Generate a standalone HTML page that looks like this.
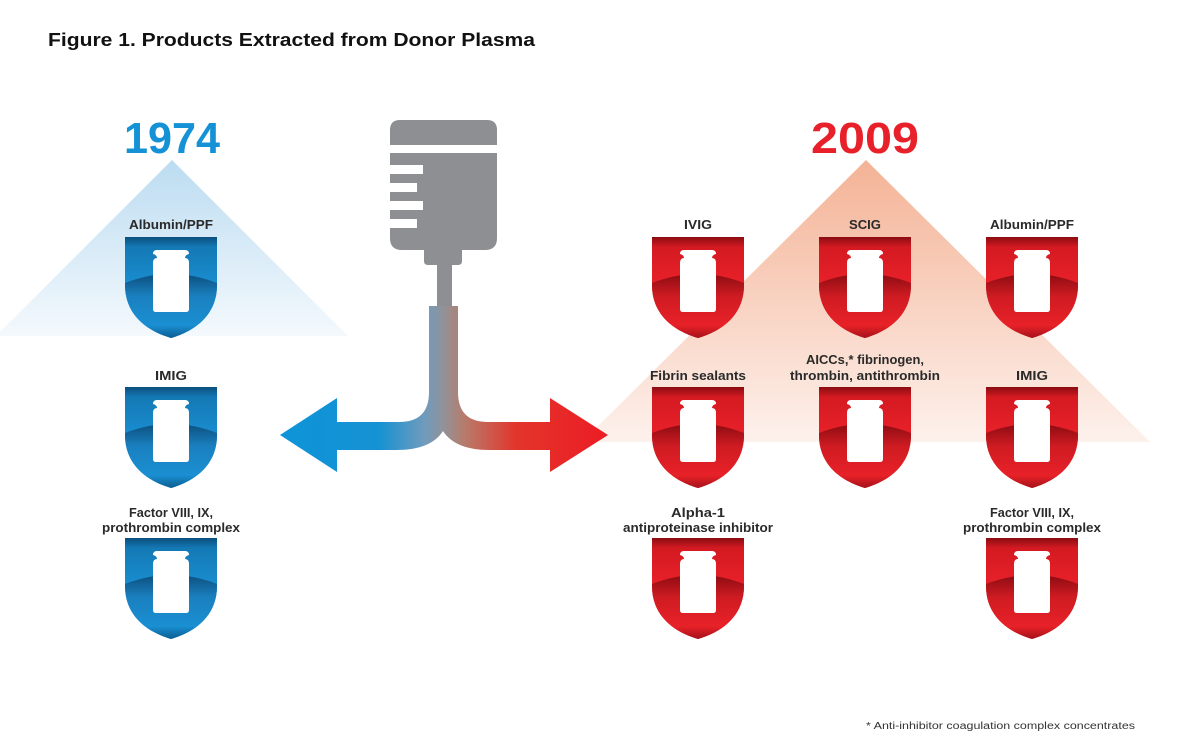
<!DOCTYPE html>
<html><head><meta charset="utf-8"><style>
html,body{margin:0;padding:0;background:#fff;}
svg{display:block;}
text{font-family:"Liberation Sans",sans-serif;}
.lb{font-size:13px;fill:#2a2a2a;text-anchor:middle;font-weight:bold;}
</style></head><body>
<svg width="1200" height="756" viewBox="0 0 1200 756" xmlns="http://www.w3.org/2000/svg">
<defs>
<linearGradient id="triB" x1="0" y1="0" x2="0" y2="1"><stop offset="0" stop-color="#bcdcf1"/><stop offset="1" stop-color="#f4f9fd"/></linearGradient>
<linearGradient id="triR" x1="0" y1="0" x2="0" y2="1"><stop offset="0" stop-color="#f4b396"/><stop offset="1" stop-color="#fdf1ec"/></linearGradient>
<linearGradient id="bTop" x1="0" y1="0" x2="0" y2="1"><stop offset="0" stop-color="#0b4f7c"/><stop offset="0.1" stop-color="#1479b5"/><stop offset="0.5" stop-color="#1a8fd2"/><stop offset="1" stop-color="#1a8fd2"/></linearGradient>
<linearGradient id="bLow" x1="0" y1="0" x2="0" y2="1"><stop offset="0" stop-color="#0c507f"/><stop offset="0.35" stop-color="#1a80bf"/><stop offset="0.8" stop-color="#1a8fd2"/><stop offset="1" stop-color="#0c5d92"/></linearGradient>
<linearGradient id="rTop" x1="0" y1="0" x2="0" y2="1"><stop offset="0" stop-color="#8a0c12"/><stop offset="0.1" stop-color="#d41a22"/><stop offset="0.5" stop-color="#ea2129"/><stop offset="1" stop-color="#ea2129"/></linearGradient>
<linearGradient id="rLow" x1="0" y1="0" x2="0" y2="1"><stop offset="0" stop-color="#8d0c12"/><stop offset="0.35" stop-color="#cf1b22"/><stop offset="0.8" stop-color="#e82128"/><stop offset="1" stop-color="#a5121a"/></linearGradient>
<linearGradient id="arr" gradientUnits="userSpaceOnUse" x1="280" y1="0" x2="608" y2="0">
<stop offset="0" stop-color="#0d94d8"/><stop offset="0.3" stop-color="#1592d3"/><stop offset="0.44" stop-color="#6f9bbd"/><stop offset="0.5" stop-color="#929298"/><stop offset="0.56" stop-color="#b67c6c"/><stop offset="0.72" stop-color="#e3352c"/><stop offset="1" stop-color="#ec1c24"/></linearGradient>
<g id="shB">
<path d="M0,0 H92 V48 C92,78 70,94 46,101 C22,94 0,78 0,48 Z" fill="url(#bTop)"/>
<path d="M0,46 Q46,28 92,46 V48 C92,78 70,94 46,101 C22,94 0,78 0,48 Z" fill="url(#bLow)"/>
<path d="M28,17 Q28,13 32,13 H60 Q64,13 64,17 Q60,18 60,21 Q64,21 64,26 V72 Q64,75 61,75 H31 Q28,75 28,72 V26 Q28,21 32,21 Q32,18 28,17 Z" fill="#fff"/>
</g>
<g id="shR">
<path d="M0,0 H92 V48 C92,78 70,94 46,101 C22,94 0,78 0,48 Z" fill="url(#rTop)"/>
<path d="M0,46 Q46,28 92,46 V48 C92,78 70,94 46,101 C22,94 0,78 0,48 Z" fill="url(#rLow)"/>
<path d="M28,17 Q28,13 32,13 H60 Q64,13 64,17 Q60,18 60,21 Q64,21 64,26 V72 Q64,75 61,75 H31 Q28,75 28,72 V26 Q28,21 32,21 Q32,18 28,17 Z" fill="#fff"/>
</g>
</defs>

<text x="48" y="46" font-size="18" font-weight="bold" fill="#111" textLength="487" lengthAdjust="spacingAndGlyphs">Figure 1. Products Extracted from Donor Plasma</text>

<!-- triangles -->
<polygon points="172,160 348,336 -4,336" fill="url(#triB)"/>
<polygon points="866,160 1150,442 582,442" fill="url(#triR)"/>

<text x="172" y="153" font-size="44" font-weight="bold" fill="#1592d6" text-anchor="middle" textLength="96" lengthAdjust="spacingAndGlyphs">1974</text>
<text x="865" y="153" font-size="44" font-weight="bold" fill="#e8202a" text-anchor="middle" textLength="108" lengthAdjust="spacingAndGlyphs">2009</text>

<!-- bag -->
<g fill="#8d8f92">
<path d="M390,145 V130 Q390,120 400,120 H487 Q497,120 497,130 V145 Z"/>
<path d="M390,153 H497 V238 Q497,250 485,250 H402 Q390,250 390,238 Z"/>
<path d="M424,246 H462 V261 Q462,265 458,265 H428 Q424,265 424,261 Z"/>
<rect x="437" y="263" width="15" height="44"/>
</g>
<g fill="#fff">
<rect x="389" y="165" width="34" height="9"/>
<rect x="389" y="183" width="28" height="9"/>
<rect x="389" y="201" width="34" height="9"/>
<rect x="389" y="219" width="28" height="9"/>
</g>
<!-- arrow -->
<path d="M429,306 H458 V392 Q458,422 488,422 H550 V398 L608,435 L550,472 V450 H490 Q455,450 443,431 Q431,450 396,450 H337 V472 L280,435 L337,398 V422 H399 Q429,422 429,392 Z" fill="url(#arr)"/>

<!-- left column -->
<text class="lb" x="171" y="229" textLength="84" lengthAdjust="spacingAndGlyphs">Albumin/PPF</text>
<use href="#shB" x="125" y="237"/>
<text class="lb" x="171" y="380" textLength="32" lengthAdjust="spacingAndGlyphs">IMIG</text>
<use href="#shB" x="125" y="387"/>
<text class="lb" x="171" y="517" textLength="84" lengthAdjust="spacingAndGlyphs">Factor VIII, IX,</text>
<text class="lb" x="171" y="532" textLength="138" lengthAdjust="spacingAndGlyphs">prothrombin complex</text>
<use href="#shB" x="125" y="538"/>

<!-- right grid -->
<text class="lb" x="698" y="229" textLength="28" lengthAdjust="spacingAndGlyphs">IVIG</text>
<use href="#shR" x="652" y="237"/>
<text class="lb" x="865" y="229" textLength="32" lengthAdjust="spacingAndGlyphs">SCIG</text>
<use href="#shR" x="819" y="237"/>
<text class="lb" x="1032" y="229" textLength="84" lengthAdjust="spacingAndGlyphs">Albumin/PPF</text>
<use href="#shR" x="986" y="237"/>

<text class="lb" x="698" y="380" textLength="96" lengthAdjust="spacingAndGlyphs">Fibrin sealants</text>
<use href="#shR" x="652" y="387"/>
<text class="lb" x="865" y="364" textLength="118" lengthAdjust="spacingAndGlyphs">AICCs,* fibrinogen,</text>
<text class="lb" x="865" y="380" textLength="150" lengthAdjust="spacingAndGlyphs">thrombin, antithrombin</text>
<use href="#shR" x="819" y="387"/>
<text class="lb" x="1032" y="380" textLength="32" lengthAdjust="spacingAndGlyphs">IMIG</text>
<use href="#shR" x="986" y="387"/>

<text class="lb" x="698" y="517" textLength="54" lengthAdjust="spacingAndGlyphs">Alpha-1</text>
<text class="lb" x="698" y="532" textLength="150" lengthAdjust="spacingAndGlyphs">antiproteinase inhibitor</text>
<use href="#shR" x="652" y="538"/>
<text class="lb" x="1032" y="517" textLength="84" lengthAdjust="spacingAndGlyphs">Factor VIII, IX,</text>
<text class="lb" x="1032" y="532" textLength="138" lengthAdjust="spacingAndGlyphs">prothrombin complex</text>
<use href="#shR" x="986" y="538"/>

<text x="866" y="729" font-size="10" fill="#333" textLength="269" lengthAdjust="spacingAndGlyphs">* Anti-inhibitor coagulation complex concentrates</text>
</svg>
</body></html>
